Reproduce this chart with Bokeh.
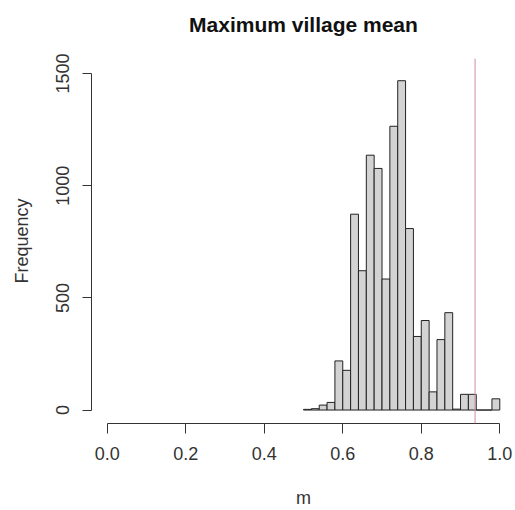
from bokeh.plotting import figure
from bokeh.models import ColumnDataSource, Span, FixedTicker, CustomJSTickFormatter, Range1d, Title
from bokeh.embed import file_html
from bokeh.resources import INLINE

# Histogram data (bin edges and counts)
bin_left = [0.50, 0.52, 0.54, 0.56, 0.58, 0.60, 0.62, 0.64, 0.66, 0.68,
            0.70, 0.72, 0.74, 0.76, 0.78, 0.80, 0.82, 0.84, 0.86, 0.88,
            0.90, 0.92, 0.94, 0.96, 0.98]
bin_right = [0.52, 0.54, 0.56, 0.58, 0.60, 0.62, 0.64, 0.66, 0.68, 0.70,
             0.72, 0.74, 0.76, 0.78, 0.80, 0.82, 0.84, 0.86, 0.88, 0.90,
             0.92, 0.94, 0.96, 0.98, 1.00]
counts = [3, 6, 22, 34, 219, 177, 873, 621, 1136, 1077,
          584, 1265, 1468, 809, 328, 399, 81, 314, 434, 4,
          70, 70, 0, 0, 50]
observed = 0.937
x_ticks = [0.0, 0.2, 0.4, 0.6, 0.8, 1.0]
y_ticks = [0, 500, 1000, 1500]
title_text = "Maximum village mean"

FONT = "Liberation Sans"

p = figure(width=515, height=510, output_backend="svg", toolbar_location=None,
           x_range=Range1d(-0.04, 1.04), y_range=Range1d(-60, 1567),
           min_border_left=91, min_border_right=0, min_border_top=58,
           min_border_bottom=85)

src = ColumnDataSource(dict(left=bin_left, right=bin_right, top=counts,
                            bottom=[0] * len(counts)))
p.quad(left="left", right="right", top="top", bottom="bottom", source=src,
       fill_color="#d3d3d3", line_color="#222222", line_width=1)

p.add_layout(Span(location=observed, dimension="height", line_color="#d08a98",
                  line_width=1))

# spacer between the plot region and the title
p.add_layout(Title(text=" ", text_font_size="10px", standoff=10), "above")
p.add_layout(Title(text=title_text, text_font=FONT, text_font_size="21px",
                   text_font_style="bold", text_color="#111111",
                   align="center", standoff=0), "above")

p.grid.visible = False
p.outline_line_color = None
p.background_fill_color = "white"
p.border_fill_color = "white"

xa = p.xaxis[0]
xa.bounds = (0, 1)
xa.ticker = FixedTicker(ticks=x_ticks)
xa.formatter = CustomJSTickFormatter(code="return tick.toFixed(1);")
xa.axis_label = "m"
xa.axis_label_text_font = FONT
xa.axis_label_text_font_size = "18px"
xa.axis_label_text_font_style = "normal"
xa.axis_label_text_color = "#333333"
xa.axis_label_standoff = 25
xa.major_label_text_font = FONT
xa.major_label_text_font_size = "18px"
xa.major_label_text_color = "#333333"
xa.major_label_standoff = 13
xa.major_tick_out = 10
xa.major_tick_in = 0
xa.minor_tick_out = 0
xa.minor_tick_in = 0
xa.axis_line_color = "#333333"
xa.major_tick_line_color = "#333333"

ya = p.yaxis[0]
ya.bounds = (0, 1500)
ya.ticker = FixedTicker(ticks=y_ticks)
ya.axis_label = "Frequency"
ya.axis_label_text_font = FONT
ya.axis_label_text_font_size = "18px"
ya.axis_label_text_font_style = "normal"
ya.axis_label_text_color = "#333333"
ya.axis_label_standoff = 22
ya.major_label_text_font = FONT
ya.major_label_text_font_size = "18px"
ya.major_label_text_color = "#333333"
ya.major_label_orientation = "vertical"
ya.major_label_standoff = 13
ya.major_tick_out = 9
ya.major_tick_in = 0
ya.minor_tick_out = 0
ya.minor_tick_in = 0
ya.axis_line_color = "#333333"
ya.major_tick_line_color = "#333333"

open("out.html", "w").write(file_html(p, INLINE))
